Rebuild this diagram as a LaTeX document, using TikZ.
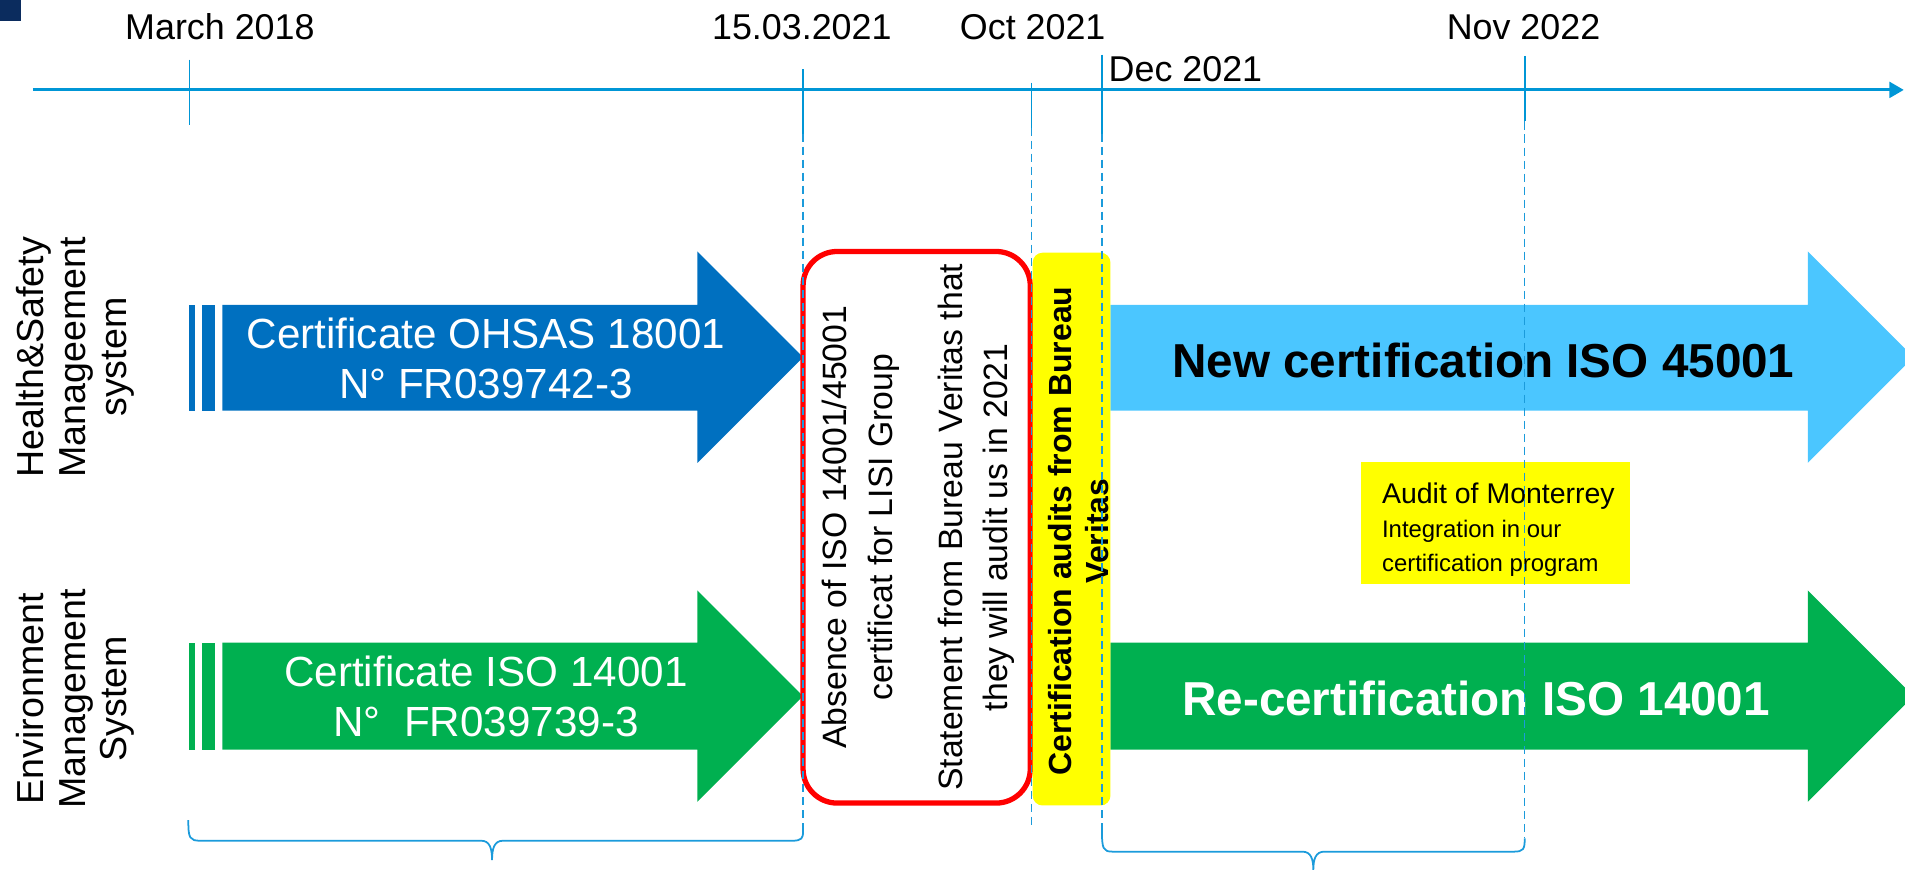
\documentclass[tikz,border=0pt]{standalone}
\usepackage{fontspec}
\setmainfont{Liberation Sans}
\usetikzlibrary{arrows.meta}
\definecolor{tl}{HTML}{0096D6}
\definecolor{dl}{HTML}{1B9BDB}
\definecolor{navy}{HTML}{0B2C5E}
\definecolor{hsblue}{HTML}{0070C0}
\definecolor{envgreen}{HTML}{00B050}
\definecolor{lightblue}{HTML}{4BC6FF}
\definecolor{redbox}{HTML}{FF0000}
\definecolor{yel}{HTML}{FFFF00}
\begin{document}
\begin{tikzpicture}[x=0.01215cm,y=-0.01215cm,
  tline/.style={draw=tl, line width=0.8pt},
  tick/.style={draw=tl, line width=0.5pt},
  guide/.style={draw=dl, line width=0.4pt, dash pattern=on 2.3pt off 1.4pt},
  brace/.style={draw=dl, line width=0.5pt},
  datelbl/.style={font=\fontsize{10.2pt}{12pt}\selectfont, inner sep=0pt},
  sidelbl/.style={rotate=90, align=center, font=\fontsize{10.7pt}{11.8pt}\selectfont, inner sep=0pt},
  certlbl/.style={text=white, align=center, font=\fontsize{12pt}{14.2pt}\selectfont, inner sep=0pt},
  biglbl/.style={align=center, font=\bfseries\fontsize{13.55pt}{16pt}\selectfont, inner sep=0pt},
  notelbl/.style={rotate=90, align=center, font=\fontsize{9.6pt}{13pt}\selectfont, inner sep=0pt},
  auditlbl/.style={rotate=90, align=center, font=\bfseries\fontsize{9.1pt}{10.5pt}\selectfont, inner sep=0pt},
  auditbox/.style={fill=yel, minimum width=76.7pt, minimum height=34.9pt, inner sep=0pt},
  mtyhead/.style={anchor=west, inner sep=0pt, font=\fontsize{8.1pt}{10pt}\selectfont},
  mtysub/.style={anchor=west, inner sep=0pt, font=\fontsize{6.8pt}{9pt}\selectfont}
]
\useasboundingbox (0,0) rectangle (1568,716);
\fill[navy] (0,0) rectangle (17,17);

% timeline
\coordinate (tlstart) at (27,74);
\coordinate (tlend) at (1567,74);
\draw[tline, -{Triangle[length=4.1pt,width=4.5pt]}] (tlstart) -- (tlend);

% ticks
\draw[tick] (156,49) -- (156,103);
\draw[tick] (661,57) -- (661,110);
\draw[tick] (849,68) -- (849,105);
\draw[tick] (907,45) -- (907,110);
\draw[tick] (1255,46) -- (1255,100);

% dates
\node[datelbl] (d1) at (181,22) {March 2018};
\node[datelbl] (d2) at (660,22) {15.03.2021};
\node[datelbl] (d3) at (850,22) {Oct 2021};
\node[datelbl,anchor=west] (d4) at (912,57) {Dec 2021};
\node[datelbl] (d5) at (1254,22) {Nov 2022};

% side labels
\node[sidelbl] (hs) at (62,294) {Health\&Safety\\Manageement\\system};
\node[sidelbl] (env) at (62,575) {Environment\\Management\\System};

% health & safety arrow
\fill[hsblue] (155.5,251) rectangle (160.5,338);
\fill[hsblue] (166,251) rectangle (177,338);
\fill[hsblue] (183,251) -- (574,251) -- (574,207) -- (661,294) -- (574,381) -- (574,338) -- (183,338) -- cycle;
\node[certlbl] (ohsas) at (400,295) {Certificate OHSAS 18001\\N° FR039742-3};

% environment arrow
\fill[envgreen] (155.5,529) rectangle (160.5,617);
\fill[envgreen] (166,529) rectangle (177,617);
\fill[envgreen] (183,529) -- (574,529) -- (574,486) -- (661,573) -- (574,660) -- (574,617) -- (183,617) -- cycle;
\node[certlbl] (iso14) at (400,573.5) {Certificate ISO 14001\\N°~~FR039739-3};

% new arrows
\fill[lightblue] (914,251) -- (1488,251) -- (1488,207) -- (1575,294) -- (1488,381) -- (1488,338) -- (914,338) -- cycle;
\node[biglbl] (new45) at (1221,297) {New certification ISO 45001};
\fill[envgreen] (914,529) -- (1488,529) -- (1488,486) -- (1575,573) -- (1488,660) -- (1488,617) -- (914,617) -- cycle;
\node[biglbl, text=white] (re14) at (1215,575) {Re-certification ISO 14001};

% red note box
\draw[draw=redbox, line width=1.5pt, rounded corners=9.7pt, fill=white] (661,207) rectangle (848,661);
\node[notelbl] (note) at (756,434) {Absence of ISO 14001/45001\\certificat for LISI Group\\[6.9pt]Statement from Bureau Veritas that\\they will audit us in 2021};

% yellow audit box
\fill[yel, rounded corners=2.8pt] (850,208) rectangle (914,663);
\node[auditlbl] (audits) at (888,437) {Certification audits from Bureau\\Veritas};

% Monterrey box
\node[auditbox] (mty) at (1231,430.5) {};
\node[mtyhead] (mty1) at (1137,408) {Audit of Monterrey};
\node[mtysub] (mty2) at (1137,437) {Integration in our};
\node[mtysub] (mty3) at (1137,465) {certification program};

% braces
\draw[brace] (155,675) .. controls (155,690) and (156,692) .. (165,692) -- (396,692) .. controls (403,692) and (405,698) .. (405,708) .. controls (405,698) and (407,692) .. (414,692) -- (652,692) .. controls (660,692) and (661,690) .. (661,684);
\draw[brace] (907,683) .. controls (907,699) and (908,701) .. (916,701) -- (1072,701) .. controls (1079,701) and (1081,707) .. (1081,716) .. controls (1081,707) and (1083,701) .. (1090,701) -- (1246,701) .. controls (1254,701) and (1255,699) .. (1255,690);

% guides
\draw[guide] (661,110) -- (661,685);
\draw[guide] (849,105) -- (849,680);
\draw[guide] (907,110) -- (907,683);
\draw[guide] (1255,100) -- (1255,690);
\end{tikzpicture}
\end{document}
